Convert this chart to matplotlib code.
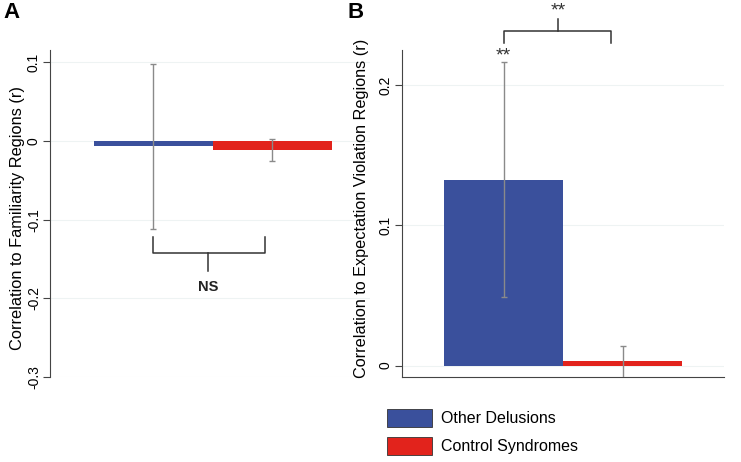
import matplotlib
matplotlib.use("Agg")
import matplotlib.pyplot as plt
from matplotlib.patches import Patch

plt.rcParams['font.family'] = ['Liberation Sans', 'DejaVu Sans']

groups = ['Other Delusions', 'Control Syndromes']
colors = ['#3a509c', '#e2231c']

# panel A: familiarity regions
fam_mean = [-0.0066, -0.011]
fam_hi = [0.098, 0.003]
fam_lo = [-0.112, -0.025]

# panel B: expectation violation regions
exp_mean = [0.132, 0.0033]
exp_hi = [0.2167, 0.014]
exp_lo = [0.0487, -0.012]

fig = plt.figure(figsize=(7.41, 4.62), dpi=100)
ax1 = fig.add_axes([0.0675, 0.184, 0.432, 0.708])
ax2 = fig.add_axes([0.542, 0.185, 0.435, 0.707])

pos = [0, 1]
grid_c = '#eef3f3'
err_c = '#8a8a8a'


def draw(ax, means, hi, lo):
    ax.bar(pos, means, width=1.0, color=colors, zorder=2)
    yerr = [[m - l for m, l in zip(means, lo)], [h - m for m, h in zip(means, hi)]]
    ax.errorbar(pos, means, yerr=yerr, fmt='none', ecolor=err_c, elinewidth=1,
                capsize=2.5, capthick=1, zorder=3)
    ax.yaxis.grid(True, color=grid_c, lw=0.8, zorder=0)
    ax.set_axisbelow(True)
    for s in ['top', 'right']:
        ax.spines[s].set_visible(False)
    ax.spines['left'].set_color('#444444')
    ax.spines['bottom'].set_color('#444444')
    ax.set_xticks([])
    ax.tick_params(axis='y', length=5, color='#444444', labelsize=10, pad=1.5)


# ---- A
draw(ax1, fam_mean, fam_hi, fam_lo)
ax1.set_ylim(-0.3, 0.116)
ax1.set_xlim(-0.866, 1.82)
ax1.set_yticks([-0.3, -0.2, -0.1, 0, 0.1])
ax1.set_yticklabels(['-0.3', '-0.2', '-0.1', '0', '0.1'], rotation=90, va='center')
ax1.spines['bottom'].set_visible(False)
ax1.set_ylabel('Correlation to Familiarity Regions (r)', fontsize=11.8)
ax1.yaxis.set_label_coords(-0.078, 0.485)
bk = dict(color='#333333', lw=1.1, clip_on=False)
ax1.plot([0, 0, 0.94, 0.94], [-0.122, -0.142, -0.142, -0.122], **bk)
ax1.plot([0.46, 0.46], [-0.142, -0.165], **bk)
ax1.text(0.46, -0.185, 'NS', ha='center', va='center', fontsize=10.5,
         fontweight='bold', color='#222222')

# ---- B
draw(ax2, exp_mean, exp_hi, exp_lo)
ax2.set_ylim(-0.0078, 0.225)
ax2.set_xlim(-0.857, 1.85)
ax2.set_yticks([0, 0.1, 0.2])
ax2.set_yticklabels(['0', '0.1', '0.2'], rotation=90, va='center')
ax2.set_ylabel('Correlation to Expectation Violation Regions (r)', fontsize=11.7)
ax2.yaxis.set_label_coords(-0.1, 0.515)
ax2.text(0, 0.2205, '**', ha='center', va='center', fontsize=14, color='#333333')
ax2.plot([0, 0, 0.9, 0.9], [0.2297, 0.2385, 0.2385, 0.2297], **bk)
ax2.plot([0.46, 0.46], [0.2385, 0.247], **bk)
ax2.text(0.46, 0.2525, '**', ha='center', va='center', fontsize=14,
         color='#333333', clip_on=False)

fig.text(11 / 741, 1 - 12 / 462, 'A', fontsize=16, fontweight='bold', ha='center', va='center')
fig.text(356 / 741, 1 - 12 / 462, 'B', fontsize=16, fontweight='bold', ha='center', va='center')

handles = [Patch(facecolor=c, edgecolor='#333333', lw=0.6) for c in colors]
fig.legend(handles, groups, loc='lower left', bbox_to_anchor=(0.503, -0.016),
           frameon=False, fontsize=11.5, handlelength=2.8, handleheight=1.38,
           handletextpad=0.55, labelspacing=0.6)

fig.savefig('out.png', dpi=100)
